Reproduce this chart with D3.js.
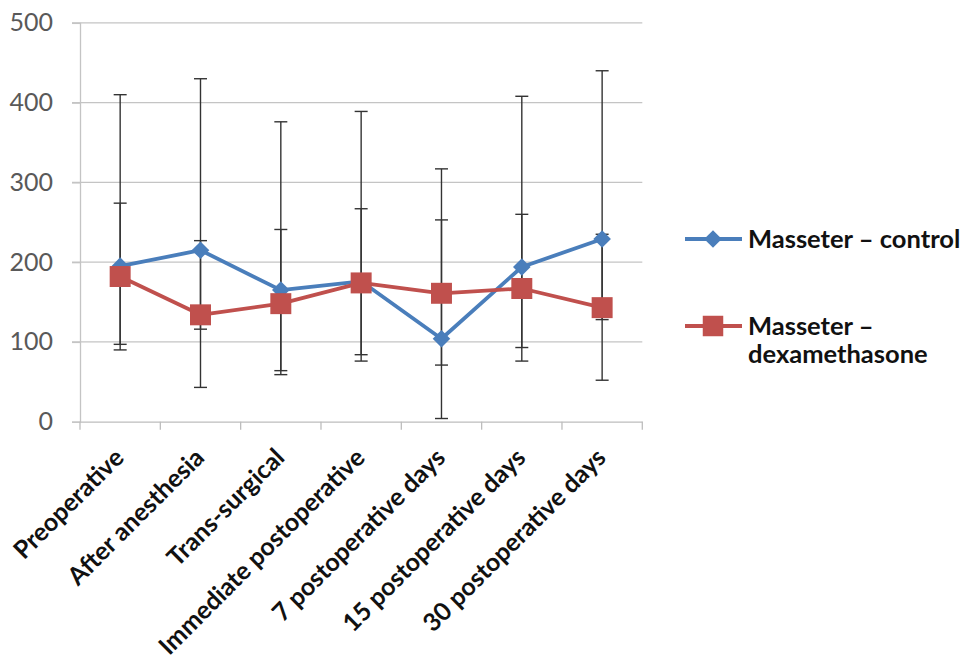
<!DOCTYPE html>
<html>
<head>
<meta charset="utf-8">
<script src="https://cdn.jsdelivr.net/npm/d3@7"></script>
<style>
  html, body { margin: 0; padding: 0; background: #fff; }
  svg { display: block; font-family: "Lato", "Open Sans", sans-serif; }
</style>
</head>
<body>
<svg id="chart" width="963" height="664"></svg>
<script>
const categories = ["Preoperative", "After anesthesia", "Trans-surgical", "Immediate postoperative",
  "7 postoperative days", "15 postoperative days", "30 postoperative days"];
const yTicks = [0, 100, 200, 300, 400, 500];

const controlValues = [195, 215, 165, 176, 104, 194, 229];
const controlUpper  = [410, 430, 376, 389, 317, 408, 440];
const controlLower  = [97, 116, 64, 76, 4, 93, 128];

const dexaValues = [182, 134, 148, 174, 161, 167, 143];
const dexaUpper  = [274, 227, 241, 267, 253, 260, 235];
const dexaLower  = [90, 43, 59, 84, 71, 76, 52];

const seriesNames = ["Masseter – control", "Masseter – dexamethasone"];

(function () {
const svg = d3.select("#chart");
const pLeft = 80, pRight = 642.3, pTop = 22.9, pBottom = 421.7;

const x = d3.scaleBand().domain(categories).range([pLeft, pRight]);
const cx = c => x(c) + x.bandwidth() / 2;
const y = d3.scaleLinear().domain([0, 500]).range([pBottom, pTop]);

const blue = "#4a7ebb", red = "#c0504d";

// gridlines
svg.append("g").selectAll("line").data(yTicks.filter(d => d > 0)).join("line")
  .attr("x1", pLeft - 8).attr("x2", pRight)
  .attr("y1", d => y(d)).attr("y2", d => y(d))
  .attr("stroke", "#c4c4c4").attr("stroke-width", 1.3);

// y axis
const yAxis = svg.append("g").attr("transform", `translate(${pLeft},0)`)
  .call(d3.axisLeft(y).tickValues(yTicks).tickSize(8).tickPadding(19));
yAxis.select(".domain").attr("stroke", "#c4c4c4").attr("stroke-width", 1.3);
yAxis.selectAll(".tick line").attr("stroke", "#c4c4c4").attr("stroke-width", 1.3);
yAxis.selectAll(".tick text").attr("fill", "#595959").attr("font-size", 25)
  .attr("font-family", "Lato, 'Open Sans', sans-serif");

// x axis
const xAxis = svg.append("g").attr("transform", `translate(0,${pBottom})`)
  .call(d3.axisBottom(x).tickSize(0).tickFormat(""));
xAxis.select(".domain").attr("stroke", "#bdbdbd").attr("stroke-width", 1.3);
xAxis.selectAll(".tick").remove();
const boundaries = categories.map(c => x(c)).concat([pRight]);
svg.append("g").selectAll("line").data(boundaries).join("line")
  .attr("x1", d => d).attr("x2", d => d)
  .attr("y1", pBottom).attr("y2", pBottom + 8)
  .attr("stroke", "#bdbdbd").attr("stroke-width", 1.3);

// category labels
svg.append("g").selectAll("text").data(categories).join("text")
  .attr("transform", d => `translate(${cx(d) - 1},453) rotate(-45)`)
  .attr("text-anchor", "end").attr("dy", "0.35em")
  .attr("font-size", 25).attr("font-weight", "bold").attr("fill", "#111")
  .text(d => d);

// error bars
function errorBars(lower, upper) {
  const g = svg.append("g").attr("stroke", "#333").attr("stroke-width", 1.4);
  categories.forEach((c, i) => {
    const px = cx(c);
    g.append("line").attr("x1", px).attr("x2", px).attr("y1", y(lower[i])).attr("y2", y(upper[i]));
    [lower[i], upper[i]].forEach(v => {
      g.append("line").attr("x1", px - 6.5).attr("x2", px + 6.5).attr("y1", y(v)).attr("y2", y(v));
    });
  });
}
errorBars(controlLower, controlUpper);
errorBars(dexaLower, dexaUpper);

const line = d3.line().x((d, i) => cx(categories[i])).y(d => y(d));

// control series
svg.append("path").datum(controlValues).attr("d", line)
  .attr("fill", "none").attr("stroke", blue).attr("stroke-width", 3.8).attr("stroke-linejoin", "round");
svg.append("g").selectAll("path").data(controlValues).join("path")
  .attr("d", d3.symbol().type(d3.symbolSquare).size(155)())
  .attr("transform", (d, i) => `translate(${cx(categories[i])},${y(d)}) rotate(45)`)
  .attr("fill", blue);

// dexa series
svg.append("path").datum(dexaValues).attr("d", line)
  .attr("fill", "none").attr("stroke", red).attr("stroke-width", 3.8).attr("stroke-linejoin", "round");
svg.append("g").selectAll("path").data(dexaValues).join("path")
  .attr("transform", (d, i) => `translate(${cx(categories[i])},${y(d)})`)
  .attr("d", d3.symbol().type(d3.symbolSquare).size(440)())
  .attr("fill", red);

// legend
const lg = svg.append("g");
lg.append("line").attr("x1", 685).attr("x2", 742).attr("y1", 239).attr("y2", 239)
  .attr("stroke", blue).attr("stroke-width", 3.8);
lg.append("path").attr("d", d3.symbol().type(d3.symbolSquare).size(155)())
  .attr("transform", "translate(713,239) rotate(45)").attr("fill", blue);
lg.append("text").attr("x", 748).attr("y", 248).attr("font-size", 25.5).attr("font-weight", "bold")
  .attr("fill", "#111").text(seriesNames[0]);

lg.append("line").attr("x1", 685).attr("x2", 742).attr("y1", 326).attr("y2", 326)
  .attr("stroke", red).attr("stroke-width", 3.8);
lg.append("path").attr("d", d3.symbol().type(d3.symbolSquare).size(420)())
  .attr("transform", "translate(713,326)").attr("fill", red);
const t2 = lg.append("text").attr("x", 748).attr("y", 335).attr("font-size", 25.5).attr("font-weight", "bold")
  .attr("fill", "#111");
t2.append("tspan").attr("x", 748).text("Masseter –");
t2.append("tspan").attr("x", 748).attr("dy", 28).text("dexamethasone");
})();
</script>
</body>
</html>
